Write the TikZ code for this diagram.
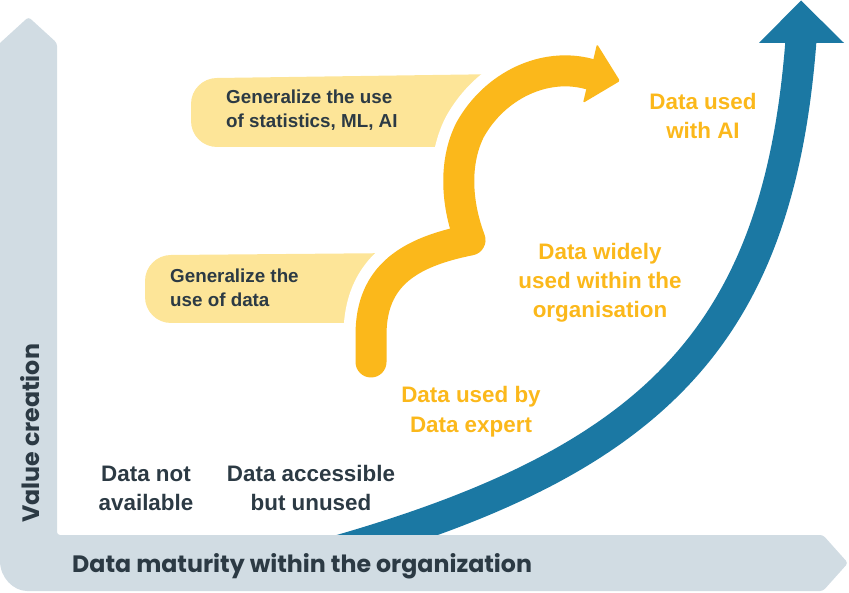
\documentclass[tikz,border=0pt]{standalone}
\usepackage{fontspec}
\setmainfont{Liberation Sans}
\newfontfamily\popfont{Poppins}
\definecolor{axisgray}{HTML}{D1DCE3}
\definecolor{bluearr}{HTML}{1B78A3}
\definecolor{gold}{HTML}{FBB81B}
\definecolor{lightgold}{HTML}{FDE598}
\definecolor{darktext}{HTML}{2C3A44}
\tikzset{
  axisshape/.style={fill=axisgray},
  calloutshape/.style={fill=lightgold},
  lbl/.style={font=\bfseries\fontsize{22.4}{29}\selectfont, text=darktext, align=center, inner sep=0pt},
  ylbl/.style={lbl, text=gold},
  cltxt/.style={font=\bfseries\fontsize{18.8}{24}\selectfont, text=darktext, align=left, inner sep=0pt},
  axlbl/.style={font=\popfont\bfseries\fontsize{23.7}{27}\selectfont, text=darktext, inner sep=0pt},
}
\begin{document}
\begin{tikzpicture}[x=1pt,y=-1pt]
\useasboundingbox (0,0) rectangle (849,593);
% blue growth arrow
\coordinate (bstart) at (301,561);
\coordinate (bend) at (801,40);
\draw[bluearr, line width=31pt] (bstart) .. controls (649,468) and (778,343) .. (bend);
\fill[bluearr] (759,43) -- (801,0.5) -- (844,43) -- cycle;
% axes
\fill[axisshape, rounded corners=3pt] (0,43) -- (28.5,17) -- (57,43) -- (57,535) -- (823,535) -- (848,563) -- (823,591) -- (30,591)
   [sharp corners] arc (90:180:30) -- cycle;
% callouts
\fill[calloutshape] (505,74) -- (217,78) arc (270:180:26) -- (191,121) arc (180:90:26) -- (217,147) -- (460,147) -- cycle;
\fill[calloutshape] (402,253) -- (171,255) arc (270:180:26) -- (145,297) arc (180:90:26) -- (171,323) -- (372,323) -- cycle;
% yellow arrow
\coordinate (ystart) at (371,362);
\coordinate (ykink) at (470,240);
\coordinate (ytop) at (470,130);
\coordinate (yend) at (589,74);
\draw[white, line width=55pt, line join=round, line cap=round] (ystart) -- (371,335) .. controls (371,275) and (410,252) .. (ykink)
   .. controls (455,200) and (455,160) .. (ytop) .. controls (495,85) and (545,62) .. (yend);
\draw[gold, line width=31pt, line join=round, line cap=round] (ystart) -- (371,335) .. controls (371,275) and (410,252) .. (ykink)
   .. controls (455,200) and (455,160) .. (ytop) .. controls (495,85) and (545,62) .. (yend);
\fill[gold, rounded corners=1.5pt] (597,44) -- (620,81) -- (583,103) -- cycle;
% texts (base anchor = baseline of last line)
\node[cltxt, anchor=base west] (c1) at (226,128) {Generalize the use\\of statistics, ML, AI};
\node[cltxt, anchor=base west] (c2) at (170,307) {Generalize the\\use of data};
\node[lbl, anchor=base] (l1) at (146,511) {Data not\\available};
\node[lbl, anchor=base] (l2) at (311,511) {Data accessible\\but unused};
\node[ylbl, anchor=base] (l3) at (471,432) {Data used by\\Data expert};
\node[ylbl, anchor=base] (l4) at (600,318) {Data widely\\used within the\\organisation};
\node[ylbl, anchor=base] (l5) at (703,139) {Data used\\with AI};
\node[axlbl, anchor=base west] (xl) at (72,572) {Data maturity within the organization};
\node[axlbl, anchor=base west, rotate=90] (yl) at (39,523) {Value creation};
\end{tikzpicture}
\end{document}
